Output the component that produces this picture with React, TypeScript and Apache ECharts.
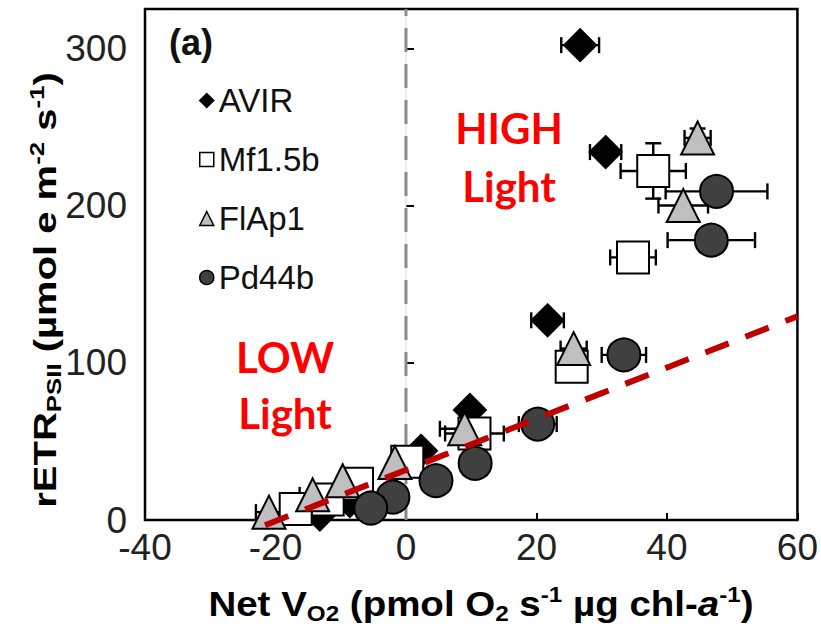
import React, { useEffect, useRef } from 'react';
import * as echarts from 'echarts';

const seriesNames = ['AVIR', 'Mf1.5b', 'FlAp1', 'Pd44b'];
// each point: [Net VO2, rETR, xError, yError]
const avirData = [
  [26.7, 302, 2.9, 0], [30.6, 234, 2.4, 0], [21.7, 127, 2.5, 0], [9.8, 70, 0, 0],
  [2.3, 44, 0, 0], [-8.6, 12, 0, 0], [-13.2, 3.5, 0, 0],
];
const mfData = [
  [37.9, 222, 5.0, 17.6], [34.8, 167, 3.5, 0], [25.4, 97.5, 0, 0], [10.5, 55, 4.5, 0],
  [0.2, 37, 0, 0], [-7.5, 23, 0, 0], [-12, 13, 0, 0], [-16.9, 7, 0, 0],
];
const flapData = [
  [44.7, 243, 2, 6], [42.5, 200, 3.8, 0], [25.7, 109, 2, 0], [9.0, 58, 3.8, 0],
  [-1.7, 36.5, 0, 0], [-9.7, 25, 0, 0], [-14.3, 16, 2, 0], [-21.0, 5, 2, 0],
];
const pdData = [
  [47.6, 209, 7.8, 0], [46.8, 178, 6.7, 0], [33.4, 105, 3.4, 0], [20.2, 61, 2.9, 0],
  [10.6, 36, 0, 0], [4.6, 25, 0, 0], [-2.0, 14.6, 0, 0], [-5.4, 7.6, 0, 0],
];
const trendLine = [[-21.6, -3.3], [60, 129.5]];
const zeroLine = [[0, 0], [0, 325]];
const xRange = [-40, 60];
const yRange = [0, 325];
const xStep = 20;
const yStep = 100;

const FONT = '"Liberation Sans", Arial, sans-serif';

const styles = [
  { symbol: 'diamond', size: 32, color: '#000000' },
  { symbol: 'rect', size: 32, color: '#ffffff' },
  { symbol: 'triangle', size: 33, color: '#bfbfbf' },
  { symbol: 'circle', size: 33, color: '#404040' },
];

const errRender = (params: any, api: any) => {
  const x = api.value(0);
  const y = api.value(1);
  const ex = api.value(2);
  const ey = api.value(3);
  const st = { stroke: '#000', lineWidth: 2.4 };
  const cap = 8;
  const ch: any[] = [];
  if (ex > 0) {
    const l = api.coord([x - ex, y]);
    const r = api.coord([x + ex, y]);
    ch.push({ type: 'line', shape: { x1: l[0], y1: l[1], x2: r[0], y2: r[1] }, style: st });
    ch.push({ type: 'line', shape: { x1: l[0], y1: l[1] - cap, x2: l[0], y2: l[1] + cap }, style: st });
    ch.push({ type: 'line', shape: { x1: r[0], y1: r[1] - cap, x2: r[0], y2: r[1] + cap }, style: st });
  }
  if (ey > 0) {
    const b = api.coord([x, y - ey]);
    const t = api.coord([x, y + ey]);
    ch.push({ type: 'line', shape: { x1: b[0], y1: b[1], x2: t[0], y2: t[1] }, style: st });
    ch.push({ type: 'line', shape: { x1: b[0] - cap, y1: b[1], x2: b[0] + cap, y2: b[1] }, style: st });
    ch.push({ type: 'line', shape: { x1: t[0] - cap, y1: t[1], x2: t[0] + cap, y2: t[1] }, style: st });
  }
  return { type: 'group', children: ch };
};

export default function App() {
  const ref = useRef<HTMLDivElement>(null);
  useEffect(() => {
    const chart = echarts.init(ref.current!, undefined, { renderer: 'svg' });
    const groups = [avirData, mfData, flapData, pdData];
    const series: any[] = [
      {
        type: 'line', data: zeroLine, symbol: 'none', silent: true, z: 1,
        lineStyle: { color: '#d8d8d8', width: 1 },
      },
      {
        type: 'line', data: zeroLine, symbol: 'none', silent: true, z: 1,
        lineStyle: { color: '#8a8a8a', width: 3, type: [24, 12] },
      },
    ];
    groups.forEach((g, i) => {
      series.push({
        type: 'custom', name: seriesNames[i] + ' err', renderItem: errRender,
        data: g, encode: { x: 0, y: 1 }, z: 2, silent: true,
      });
      series.push({
        type: 'scatter', name: seriesNames[i], z: 2,
        data: g.map((p) => [p[0], p[1]]),
        symbol: styles[i].symbol, symbolSize: styles[i].size,
        itemStyle: { color: styles[i].color, borderColor: '#000', borderWidth: 2, opacity: 1 },
      });
    });
    series.push({
      type: 'line', data: trendLine, symbol: 'none', silent: true, z: 5, clip: false,
      lineStyle: { color: '#c00000', width: 6, type: [25, 18] },
    });

    const rich = (size: number, sub: number) => ({
      b: { fontSize: size, fontWeight: 'bold', fontFamily: FONT, lineHeight: size + 6, color: '#111' },
      i: { fontSize: size, fontWeight: 'bold', fontStyle: 'italic', fontFamily: FONT, lineHeight: size + 6, color: '#111' },
      sb: { fontSize: sub, fontWeight: 'bold', fontFamily: FONT, verticalAlign: 'bottom', color: '#111' },
      sp: { fontSize: sub, fontWeight: 'bold', fontFamily: FONT, verticalAlign: 'top', color: '#111' },
    });

    chart.setOption({
      animation: false,
      grid: { left: 145, right: 23.5, top: 9, bottom: 112, show: true, borderColor: '#000', borderWidth: 2.5, containLabel: false },
      xAxis: {
        type: 'value', min: xRange[0], max: xRange[1], interval: xStep,
        axisLine: { show: false }, splitLine: { show: false },
        axisTick: { inside: true, length: 7, lineStyle: { color: '#000', width: 2 } },
        axisLabel: { fontSize: 37, color: '#222', fontFamily: FONT, margin: 9 },
      },
      yAxis: {
        type: 'value', min: yRange[0], max: yRange[1], interval: yStep,
        axisLine: { show: false }, splitLine: { show: false },
        axisTick: { inside: true, length: 8, lineStyle: { color: '#000', width: 2 } },
        axisLabel: {
          fontSize: 37, color: '#222', fontFamily: FONT, margin: 18,
          formatter: (v: number) => (v % yStep === 0 ? String(v) : ''),
        },
      },
      legend: {
        data: seriesNames, orient: 'vertical', left: 194, top: 79,
        itemWidth: 14, itemHeight: 14, itemGap: 26,
        itemStyle: { borderWidth: 1.5 },
        textStyle: { fontSize: 33, lineHeight: 31, color: '#111', fontFamily: FONT },
      },
      graphic: [
        { type: 'text', left: 169, top: 24, style: { text: '(a)', font: `bold 36px ${FONT}`, fill: '#111' }, z: 10 },
        {
          type: 'text', x: 509, y: 157, z: 10,
          style: { text: 'HIGH\nLight', font: 'bold 42px Lato, sans-serif', fill: '#ff0000', align: 'center', verticalAlign: 'middle', lineHeight: 58 },
        },
        {
          type: 'text', x: 285, y: 385, z: 10,
          style: { text: 'LOW\nLight', font: 'bold 42px Lato, sans-serif', fill: '#ff0000', align: 'center', verticalAlign: 'middle', lineHeight: 56 },
        },
        {
          type: 'text', x: 46, y: 290, rotation: Math.PI / 2, scaleX: 1.29, z: 10,
          style: {
            text: '{b|rETR}{sb|PSII}{b| (µmol e m}{sp|-2}{b| s}{sp|-1}{b|)}',
            rich: rich(31, 20), align: 'center', verticalAlign: 'middle',
          },
        },
        {
          type: 'text', x: 481, y: 604, scaleX: 1.1, z: 10,
          style: {
            text: '{b|Net V}{sb|O2}{b| (pmol O}{sb|2}{b| s}{sp|-1}{b| µg chl-}{i|a}{sp|-1}{b|)}',
            rich: rich(35, 22), align: 'center', verticalAlign: 'middle',
          },
        },
      ],
      series,
    });
    return () => chart.dispose();
  }, []);
  return <div ref={ref} style={{ position: 'absolute', left: 0, top: 0, width: 821, height: 632 }} />;
}
